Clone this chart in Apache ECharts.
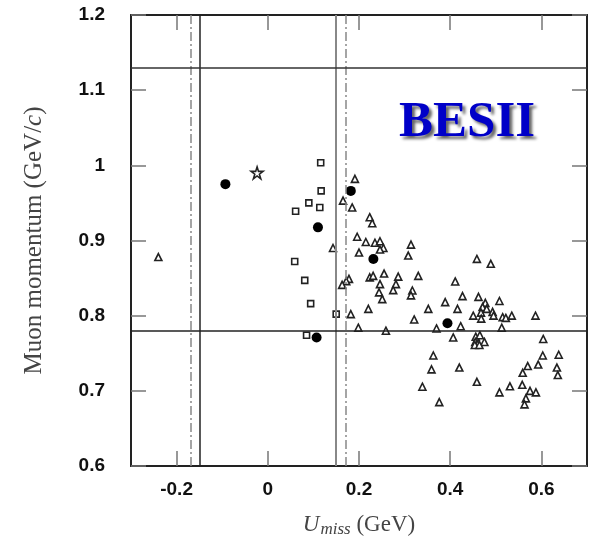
<!DOCTYPE html>
<html>
<head>
<meta charset="utf-8">
<script src="https://cdn.jsdelivr.net/npm/echarts@6/dist/echarts.min.js"></script>
<style>
  html, body { margin: 0; padding: 0; background: #fff; }
  #chart { width: 594px; height: 536px; }
</style>
</head>
<body>
<div id="chart"></div>
<script>
// U_miss (GeV), muon momentum (GeV/c)
const triangles = [
  [-0.24, 0.878],
  [0.191, 0.982], [0.165, 0.953], [0.185, 0.944], [0.2235, 0.931], [0.229, 0.923],
  [0.196, 0.905], [0.215, 0.898], [0.235, 0.897], [0.246, 0.899], [0.2535, 0.890],
  [0.246, 0.888], [0.200, 0.884], [0.143, 0.890], [0.314, 0.8945], [0.308, 0.880],
  [0.255, 0.856], [0.2235, 0.851], [0.231, 0.853], [0.286, 0.852], [0.33, 0.853],
  [0.178, 0.849], [0.172, 0.846], [0.163, 0.841], [0.246, 0.842], [0.281, 0.842],
  [0.244, 0.831], [0.275, 0.834], [0.251, 0.822], [0.317, 0.8335], [0.314, 0.827],
  [0.2205, 0.809], [0.182, 0.802], [0.321, 0.795], [0.1985, 0.784], [0.259, 0.780],
  [0.4585, 0.8755], [0.489, 0.869], [0.411, 0.8455], [0.427, 0.826], [0.462, 0.825],
  [0.477, 0.817], [0.508, 0.8195], [0.471, 0.8115], [0.4675, 0.804], [0.48, 0.809],
  [0.493, 0.805], [0.495, 0.80], [0.4505, 0.80], [0.468, 0.796], [0.515, 0.798],
  [0.522, 0.797], [0.535, 0.80], [0.587, 0.80], [0.389, 0.818], [0.352, 0.809],
  [0.416, 0.809], [0.370, 0.783], [0.423, 0.786], [0.513, 0.784], [0.4066, 0.771],
  [0.456, 0.772], [0.465, 0.774], [0.455, 0.765], [0.46, 0.762], [0.475, 0.765],
  [0.454, 0.761], [0.464, 0.761], [0.604, 0.769], [0.363, 0.747], [0.603, 0.747],
  [0.638, 0.748], [0.359, 0.7285], [0.42, 0.731], [0.57, 0.733], [0.593, 0.735],
  [0.634, 0.731], [0.559, 0.724], [0.636, 0.721], [0.4585, 0.712], [0.339, 0.7055],
  [0.531, 0.706], [0.558, 0.708], [0.508, 0.698], [0.575, 0.700], [0.588, 0.698],
  [0.566, 0.690], [0.563, 0.682], [0.376, 0.685]
];
const squares = [
  [0.116, 1.0035], [0.117, 0.966], [0.090, 0.950], [0.114, 0.944], [0.061, 0.939],
  [0.059, 0.872], [0.081, 0.847], [0.094, 0.816], [0.150, 0.802], [0.085, 0.774]
];
const dots = [
  [-0.093, 0.975], [0.110, 0.9175], [0.182, 0.966], [0.2315, 0.8755], [0.107, 0.771], [0.394, 0.790]
];
const stars = [[-0.0235, 0.990]];

const xTicks = [-0.2, 0, 0.2, 0.4, 0.6];
const cutsSolidX = [-0.152, 0.150];
const cutsDashX = [-0.172, 0.170];
const cutsY = [1.1335, 0.784];

const chart = echarts.init(document.getElementById('chart'));

const frame = { show: true, onZero: false, lineStyle: { color: '#222', width: 2 } };
const tick = { show: true, inside: true, length: 15, lineStyle: { color: '#777', width: 1.5 } };
const tickLabel = { fontFamily: 'Liberation Sans', fontWeight: 'bold', fontSize: 19, color: '#111' };
const titleFont = { fontFamily: 'Liberation Serif', fontSize: 23, color: '#444' };

const dashDot = [9, 3, 2, 3];
const openMark = { color: '#fff', borderColor: '#222', borderWidth: 1.6, opacity: 1 };

const option = {
  animation: false,
  grid: { left: 131, right: 7, top: 15, bottom: 70, outerBoundsMode: 'none', containLabel: false },
  xAxis: [
    {
      type: 'value', min: -0.3, max: 0.7, position: 'bottom',
      axisLine: frame,
      axisTick: Object.assign({}, tick, { customValues: xTicks }),
      axisLabel: Object.assign({}, tickLabel, { customValues: xTicks, margin: 14 }),
      splitLine: { show: false },
      name: '{u|U}{sub|miss}{n| (GeV)}',
      nameLocation: 'middle',
      nameGap: 46,
      nameTextStyle: {
        rich: {
          u: Object.assign({}, titleFont, { fontStyle: 'italic' }),
          sub: Object.assign({}, titleFont, { fontStyle: 'italic', fontSize: 17, verticalAlign: 'bottom', padding: [9, 0, 0, 1] }),
          n: titleFont
        }
      }
    },
    {
      type: 'value', min: -0.3, max: 0.7, position: 'top',
      axisLine: frame,
      axisTick: Object.assign({}, tick, { customValues: xTicks }),
      axisLabel: { show: false },
      splitLine: { show: false }
    }
  ],
  yAxis: [
    {
      type: 'value', min: 0.6, max: 1.2, interval: 0.1, position: 'left',
      axisLine: frame,
      axisTick: tick,
      axisLabel: Object.assign({}, tickLabel, { margin: 26 }),
      splitLine: { show: false },
      name: '{n|Muon momentum (GeV/}{i|c}{n|)}',
      nameLocation: 'middle',
      nameRotate: 90,
      nameGap: 84,
      nameTextStyle: {
        rich: {
          n: Object.assign({}, titleFont, { fontSize: 25 }),
          i: Object.assign({}, titleFont, { fontSize: 25, fontStyle: 'italic' })
        }
      }
    },
    {
      type: 'value', min: 0.6, max: 1.2, interval: 0.1, position: 'right',
      axisLine: frame,
      axisTick: tick,
      axisLabel: { show: false },
      splitLine: { show: false }
    }
  ],
  graphic: [
    {
      type: 'text', x: 399, y: 123, z: 100,
      style: {
        text: 'BESII',
        font: 'bold 51px "Liberation Serif"',
        fill: '#0000c8',
        textAlign: 'left',
        textVerticalAlign: 'middle',
        textShadowColor: 'rgba(0,0,0,0.6)',
        textShadowBlur: 3,
        textShadowOffsetX: 3,
        textShadowOffsetY: 3
      }
    }
  ],
  series: [
    {
      type: 'scatter', data: [], z: 1, silent: true,
      markLine: {
        silent: true, symbol: ['none', 'none'], label: { show: false },
        animation: false,
        data: [
          { xAxis: cutsSolidX[0], lineStyle: { color: '#222', width: 1.5, type: 'solid' } },
          { xAxis: cutsSolidX[1], lineStyle: { color: '#888', width: 2, type: 'solid' } },
          { xAxis: cutsDashX[0], lineStyle: { color: '#888', width: 1.5, type: dashDot } },
          { xAxis: cutsDashX[1], lineStyle: { color: '#888', width: 1.5, type: dashDot } },
          { yAxis: cutsY[0], lineStyle: { color: '#333', width: 1.5, type: 'solid' } },
          { yAxis: cutsY[1], lineStyle: { color: '#222', width: 1.5, type: 'solid' } }
        ]
      }
    },
    {
      name: 'triangles', type: 'scatter', data: triangles, z: 3,
      symbol: 'triangle', symbolSize: 7,
      itemStyle: openMark
    },
    {
      name: 'squares', type: 'scatter', data: squares, z: 3,
      symbol: 'rect', symbolSize: 6,
      itemStyle: openMark
    },
    {
      name: 'dots', type: 'scatter', data: dots, z: 4,
      symbol: 'circle', symbolSize: 10,
      itemStyle: { color: '#000', opacity: 1 }
    },
    {
      name: 'star', type: 'scatter', data: stars, z: 4,
      symbol: 'path://M50,2 L61,36 L97,36 L68,57 L79,92 L50,70 L21,92 L32,57 L3,36 L39,36 Z',
      symbolSize: 12,
      itemStyle: openMark
    }
  ]
};

chart.setOption(option);
</script>
</body>
</html>
